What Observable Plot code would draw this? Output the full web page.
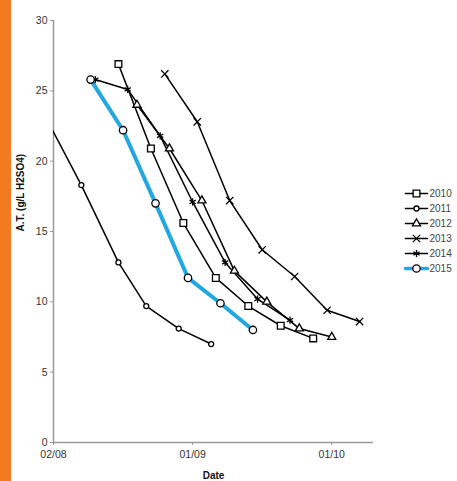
<!DOCTYPE html>
<html><head><meta charset="utf-8">
<script src="https://cdn.jsdelivr.net/npm/d3@7"></script>
<script src="https://cdn.jsdelivr.net/npm/@observablehq/plot@0.6"></script>
<style>
body{margin:0;background:#fff;}
#wrap{position:relative;width:457px;height:481px;overflow:hidden;background:#fff;}
#bar{position:absolute;left:0;top:0;width:11px;height:481px;background:#f47a20;}
#chart{position:absolute;left:0;top:0;}
#legend{position:absolute;left:400px;top:175px;}
svg{font-family:"Liberation Sans",Arial,sans-serif;}
</style></head><body>
<div id="wrap"><div id="bar"></div><div id="chart"></div><div id="legend"></div></div>
<script>
const years = ["2010","2011","2012","2013","2014","2015"];
const dates2010 = ["08-16","08-23","08-30","09-06","09-13","09-20","09-27"];
const values2010 = [26.9,20.9,15.6,11.7,9.7,8.3,7.4];
const dates2011 = ["08-01","08-08","08-16","08-22","08-29","09-05"];
const values2011 = [22.7,18.3,12.8,9.7,8.1,7.0];
const dates2012 = ["08-20","08-27","09-03","09-10","09-17","09-24","10-01"];
const values2012 = [24.0,20.9,17.2,12.2,10.0,8.1,7.5];
const dates2013 = ["08-26","09-02","09-09","09-16","09-23","09-30","10-07"];
const values2013 = [26.2,22.8,17.2,13.7,11.8,9.4,8.6];
const dates2014 = ["08-11","08-18","08-25","09-01","09-08","09-15","09-22"];
const values2014 = [25.8,25.1,21.8,17.1,12.8,10.2,8.7];
const dates2015 = ["08-10","08-17","08-24","08-31","09-07","09-14"];
const values2015 = [25.8,22.2,17.0,11.7,9.9,8.0];
const xTickDates = ["08-02","09-01","10-01"];
const xDomainDates = ["08-02","10-10"];
const yTicks = [0,5,10,15,20,25,30];

const parse = s => { const [m,d] = s.split("-").map(Number); return new Date(Date.UTC(2000, m-1, d)); };
const pad = n => String(n).padStart(2,"0");
const fmt = d => pad(d.getUTCDate()) + "/" + pad(d.getUTCMonth()+1);

const seriesDates = {"2010":dates2010,"2011":dates2011,"2012":dates2012,"2013":dates2013,"2014":dates2014,"2015":dates2015};
const seriesValues = {"2010":values2010,"2011":values2011,"2012":values2012,"2013":values2013,"2014":values2014,"2015":values2015};
const rows = years.flatMap(year => seriesDates[year].map((s,i) => ({year, date: parse(s), value: seriesValues[year][i]})));

const BLUE = "#22a8e0";
const style = {
  "2010": {symbol:"square", r:3.8, fill:"white", stroke:"black"},
  "2011": {symbol:"circle", r:2.5, fill:"white", stroke:"black"},
  "2012": {symbol:"triangle", r:3.0, fill:"white", stroke:"black"},
  "2013": {symbol:"times", r:3.4, fill:"none", stroke:"black"},
  "2014": {symbol:"asterisk", r:3.4, fill:"none", stroke:"black"},
  "2015": {symbol:"circle", r:3.7, fill:"white", stroke:"black"}
};

const marks = [
  Plot.ruleY([0], {stroke:"#9a9a9a", strokeWidth:1.5}),
  Plot.ruleX([parse(xDomainDates[0])], {stroke:"#9a9a9a", strokeWidth:1.5}),
  Plot.axisY({ticks: yTicks, tickSize: 3, tickPadding: 3, stroke:"#9a9a9a", fill:"#333", fontSize: 10.5, label: null}),
  Plot.axisX({ticks: xTickDates.map(parse), tickFormat: fmt, tickSize: 3, tickPadding: 5, stroke:"#9a9a9a", fill:"#333", fontSize: 10.5, label: null}),
  Plot.text(["A.T. (g/L H2SO4)"], {frameAnchor:"left", dx:-33, rotate:-90, fontWeight:"bold", fontSize:10, fill:"#111", lineAnchor:"middle"}),
  Plot.text(["Date"], {frameAnchor:"bottom", dy:33, fontWeight:"bold", fontSize:10, fill:"#111", lineAnchor:"middle"}),
];
for (const year of years) {
  const data = rows.filter(d => d.year === year);
  marks.push(Plot.line(data, {x:"date", y:"value", stroke: year==="2015" ? BLUE : "black", strokeWidth: year==="2015" ? 4 : 1.5, clip:true}));
}
for (const year of years) {
  const data = rows.filter(d => d.year === year);
  const s = style[year];
  marks.push(Plot.dot(data, {x:"date", y:"value", symbol:s.symbol, r:s.r, fill:s.fill, stroke:s.stroke, strokeWidth:1.3, clip:true}));
}

const chart = Plot.plot({
  width: 457, height: 481,
  marginLeft: 53, marginRight: 84, marginTop: 20, marginBottom: 39,
  style: {fontFamily:'"Liberation Sans", Arial, sans-serif', background:"transparent"},
  x: {type:"utc", domain: xDomainDates.map(parse)},
  y: {domain:[0,30]},
  marks
});
document.getElementById("chart").appendChild(chart);

const legRows = years.flatMap(year => [0,1].map(t => ({year, t})));
const legMarks = [];
for (const year of years) {
  legMarks.push(Plot.line(legRows.filter(d => d.year===year), {x:"t", y:"year", stroke: year==="2015" ? BLUE : "black", strokeWidth: year==="2015" ? 3.5 : 1.5}));
}
for (const year of years) {
  const s = style[year];
  legMarks.push(Plot.dot([{year, t:0.5}], {x:"t", y:"year", symbol:s.symbol, r:s.r, fill:s.fill, stroke:s.stroke, strokeWidth:1.3}));
}
legMarks.push(Plot.text(years.map(year => ({year, t:1})), {x:"t", y:"year", text:"year", textAnchor:"start", dx:2, fontSize:10, fill:"#444"}));
const legend = Plot.plot({
  width: 57, height: 112, margin: 0,
  style: {fontFamily:'"Liberation Sans", Arial, sans-serif', background:"transparent", overflow:"visible"},
  x: {domain:[0,1], range:[5,27], axis:null},
  y: {type:"point", domain: years, range:[8,103], axis:null},
  marks: legMarks
});
document.getElementById("legend").appendChild(legend);
</script>
</body></html>
